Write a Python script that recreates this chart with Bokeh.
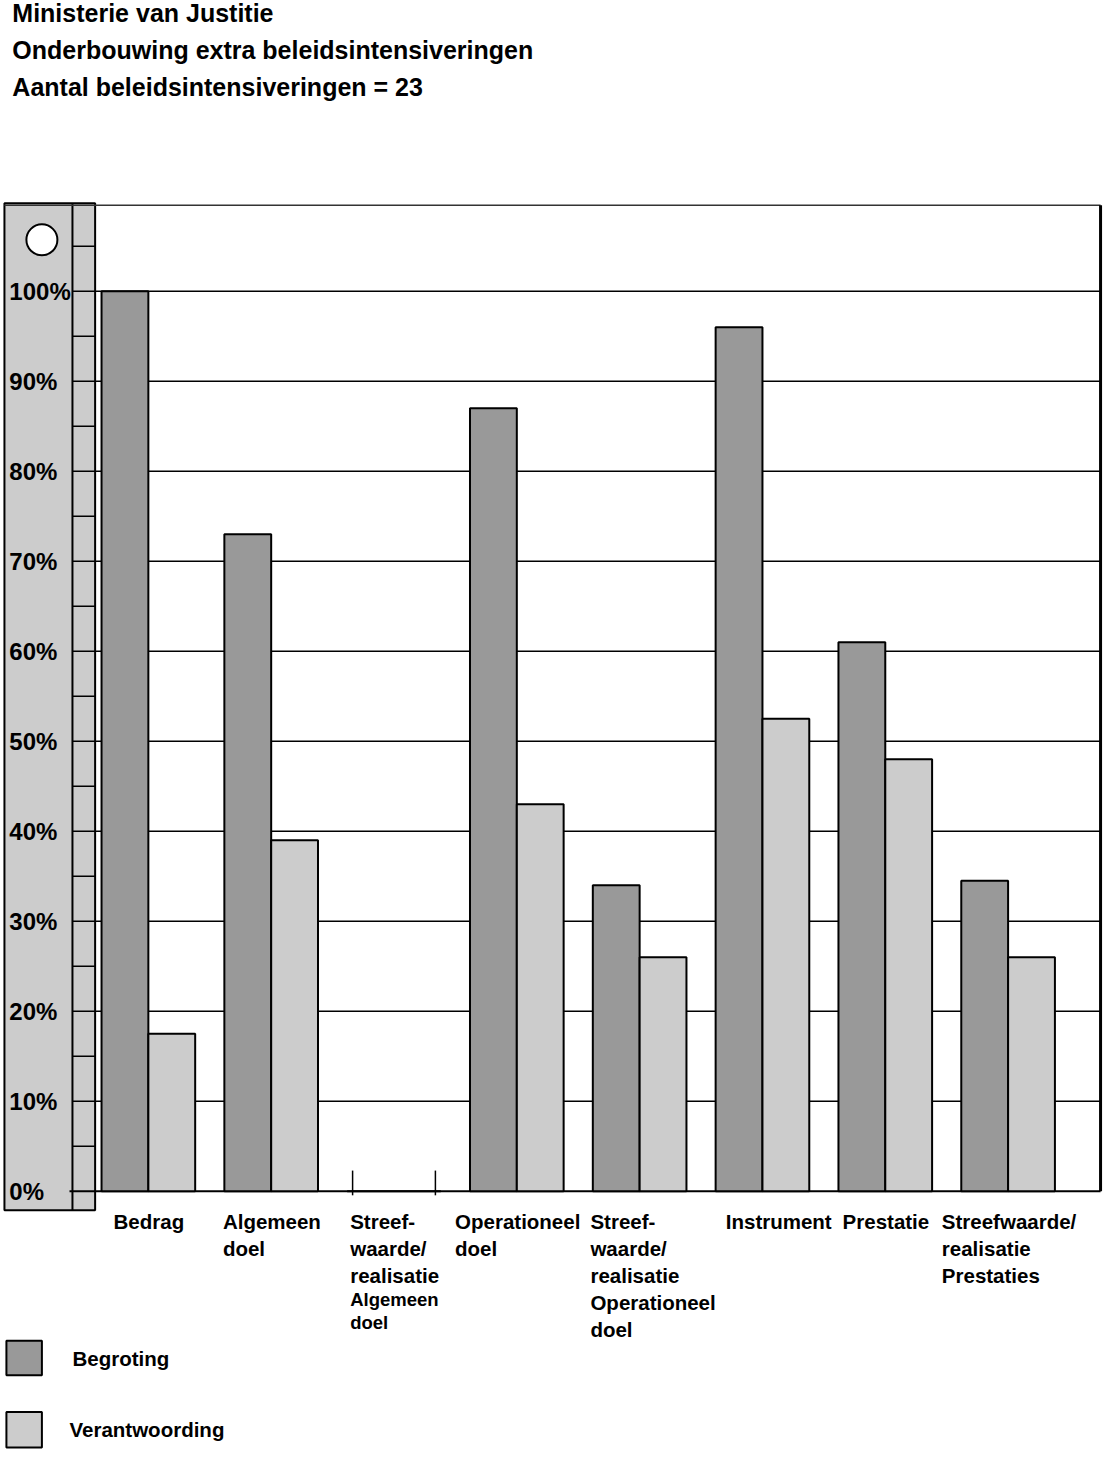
from bokeh.plotting import figure
from bokeh.models import Range1d
from bokeh.core.properties import value
from bokeh.embed import file_html
from bokeh.resources import INLINE

# ---------------- data ----------------
title_lines = [
    "Ministerie van Justitie",
    "Onderbouwing extra beleidsintensiveringen",
    "Aantal beleidsintensiveringen = 23",
]
categories = [
    ["Bedrag"],
    ["Algemeen", "doel"],
    ["Streef-", "waarde/", "realisatie", "Algemeen", "doel"],
    ["Operationeel", "doel"],
    ["Streef-", "waarde/", "realisatie", "Operationeel", "doel"],
    ["Instrument"],
    ["Prestatie"],
    ["Streefwaarde/", "realisatie", "Prestaties"],
]
# lines drawn with a smaller font (category index, line index)
small_lines = [(2, 3), (2, 4)]
series_names = ["Begroting", "Verantwoording"]
begroting = [100, 73, 0, 87, 34, 96, 61, 34.5]
verantwoording = [17.5, 39, 0, 43, 26, 52.5, 48, 26]
y_ticks = [0, 10, 20, 30, 40, 50, 60, 70, 80, 90, 100]
y_tick_labels = ["0%", "10%", "20%", "30%", "40%", "50%", "60%", "70%", "80%", "90%", "100%"]
minor_ticks = [5, 10, 15, 20, 25, 30, 35, 40, 45, 50, 55, 60, 65, 70, 75, 80, 85, 90, 95, 100, 105]

# ---------------- style / layout ----------------
DARK = "#999999"
LIGHT = "#cccccc"
FONT = value("Liberation Sans")
REF_W, REF_H = 1120, 1465
ZERO_PX, PX_PER_PCT = 1204, 9.1
LABEL_FS, SMALL_FS = 20.5, 18.5
LABEL_GAP = 12

# approximate advance widths (em/1000) of a bold sans, for centring label blocks
_W = {"a": 556, "b": 611, "c": 556, "d": 611, "e": 556, "f": 333, "g": 611, "h": 611,
      "i": 278, "j": 278, "k": 556, "l": 278, "m": 889, "n": 611, "o": 611, "p": 611,
      "q": 611, "r": 389, "s": 556, "t": 333, "u": 611, "v": 556, "w": 778, "x": 556,
      "y": 556, "z": 500, "A": 722, "B": 722, "I": 278, "O": 778, "P": 667, "S": 667,
      "/": 278, "-": 333, " ": 278}


def text_w(t, fs):
    return sum(_W.get(ch, 600) for ch in t) / 1000 * fs


def py(p):
    """reference pixel row -> percent units on the value scale"""
    return (ZERO_PX - p) / PX_PER_PCT


p = figure(width=1104, height=1449, output_backend="svg", toolbar_location=None,
           x_range=Range1d(0, REF_W), y_range=Range1d(py(REF_H), py(0)),
           min_border=0, tools="")
p.axis.visible = False
p.grid.visible = False
p.outline_line_color = None
p.background_fill_color = "white"

# titles
p.text(x=[12, 12, 12], y=[py(13), py(50), py(87)], text=title_lines,
       text_font=FONT, text_font_style="bold", text_font_size="25px",
       text_baseline="middle", text_align="left", text_color="black")

# left scale box
box_top, box_bot = py(205), py(1223)
p.quad(left=[4], right=[96], top=[box_top], bottom=[box_bot],
       fill_color=LIGHT, line_color="black", line_width=2)
p.segment(x0=[73], x1=[73], y0=[box_top], y1=[box_bot], line_color="black", line_width=2)
p.segment(x0=[73] * len(minor_ticks), x1=[96] * len(minor_ticks),
          y0=minor_ticks, y1=minor_ticks, line_color="black", line_width=1.5)
p.scatter(x=[42], y=[py(242)], size=31, fill_color="white", line_color="black", line_width=2)
p.text(x=[9] * len(y_ticks), y=y_ticks, text=y_tick_labels,
       text_font=FONT, text_font_style="bold", text_font_size="24px",
       text_baseline="middle", text_align="left", text_color="black")

# plot frame + grid
p.segment(x0=[4], x1=[1116], y0=[py(207)], y1=[py(207)], line_color="#333333", line_width=1.5)
p.segment(x0=[1116], x1=[1116], y0=[py(207)], y1=[0], line_color="black", line_width=3)
grid = y_ticks[1:]
p.segment(x0=[96] * len(grid), x1=[1116] * len(grid), y0=grid, y1=grid,
          line_color="black", line_width=1.5)
p.segment(x0=[70], x1=[1116], y0=[0], y1=[0], line_color="black", line_width=2)

# bars
n = len(categories)
first_center, step, bar_w = 150, 124.6, 47.5
centers = [first_center + i * step for i in range(n)]
p.vbar(x=[c - bar_w / 2 for c in centers], top=begroting, bottom=0, width=bar_w,
       fill_color=DARK, line_color="black", line_width=2)
p.vbar(x=[c + bar_w / 2 for c in centers], top=verantwoording, bottom=0, width=bar_w,
       fill_color=LIGHT, line_color="black", line_width=2)

# axis ticks shown where a group has no bars
tx = []
for c, b, v in zip(centers, begroting, verantwoording):
    if b == 0 and v == 0:
        tx += [c - 42, c + 42]
p.segment(x0=tx, x1=tx, y0=[py(1183)] * len(tx), y1=[py(1208)] * len(tx),
          line_color="black", line_width=1.5)

# category labels: left-aligned blocks centred under each group (no overlap)
rows = {False: ([], [], []), True: ([], [], [])}
prev_right = -1e9
for i, lines in enumerate(categories):
    block_w = max(text_w(t, SMALL_FS if (i, j) in small_lines else LABEL_FS)
                  for j, t in enumerate(lines))
    left = max(centers[i] - block_w / 2, prev_right + LABEL_GAP)
    prev_right = left + block_w
    y = 1234
    for j, t in enumerate(lines):
        small = (i, j) in small_lines
        xs, ys, ts = rows[small]
        xs.append(left)
        ys.append(py(y))
        ts.append(t)
        y += 24 if ((i, j + 1) in small_lines or small) else 27.5
for small, fs in ((False, LABEL_FS), (True, SMALL_FS)):
    xs, ys, ts = rows[small]
    p.text(x=xs, y=ys, text=ts, text_font=FONT, text_font_style="bold",
           text_font_size=f"{fs}px", text_baseline="middle", text_align="left",
           text_color="black")

# legend
p.quad(left=[6, 6], right=[42, 42], top=[py(1355), py(1427)], bottom=[py(1390), py(1463)],
       fill_color=[DARK, LIGHT], line_color="black", line_width=2)
p.text(x=[73, 70], y=[py(1373), py(1445)], text=series_names,
       text_font=FONT, text_font_style="bold", text_font_size="20.5px",
       text_baseline="middle", text_align="left", text_color="black")

open("out.html", "w").write(file_html(p, INLINE))
